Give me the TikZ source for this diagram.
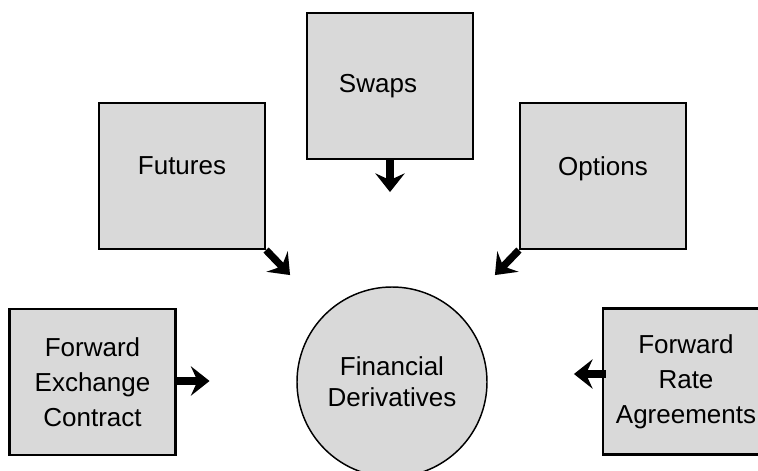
\documentclass[tikz,border=0pt]{standalone}
\usepackage{fontspec}
\setmainfont{Liberation Sans}
\usetikzlibrary{arrows.meta,calc}

\definecolor{boxgray}{HTML}{D9D9D9}
\newcommand{\derivfont}{\fontsize{19.5}{26.25}\selectfont}

\tikzset{
  kindbox/.style={draw, line width=1.6pt, fill=boxgray, minimum width=124.5pt,
    minimum height=109.5pt, inner sep=0pt, align=center, font=\derivfont},
  hubcircle/.style={draw, circle, line width=1.1pt, fill=boxgray, minimum size=142.5pt,
    inner sep=0pt, align=center, font=\fontsize{19.5}{23.25}\selectfont},
  blockarrow/.style={line width=5.5pt, -{Stealth[length=14pt,width=22pt,inset=5pt]}},
}

\begin{document}
\begin{tikzpicture}[x=0.75pt,y=-0.75pt]
\useasboundingbox (0,0) rectangle (758,471);

% Centre.
\node[hubcircle] (fin) at (392,382) {Financial\\Derivatives};

% Kinds of derivatives.
\node[kindbox] (swaps) at (390,86) {Swaps\hspace{18pt}};
\node[kindbox, text depth=15pt] (futures) at (182,176) {Futures};
\node[kindbox, text depth=15pt] (options) at (603,176) {Options};
\node[kindbox] (fec) at (92.5,382) {Forward\\Exchange\\Contract};
\node[kindbox] (fra) at (686,381.5) {Forward\\Rate\\Agreements};

% Arrow tips.
\coordinate (swapstip) at ($(swaps.south)+(0,32)$);
\coordinate (futurestip) at ($(futures.south east)+(24,25)$);
\coordinate (optionstip) at ($(options.south west)+(-24,25)$);
\coordinate (fectip) at ($(fec.east)+(33,-1)$);
\coordinate (frastart) at ($(fra.west)+(4,-7.5)$);
\coordinate (fratip) at ($(fra.west)+(-28,-7.5)$);

\draw[blockarrow] (swaps.south) -- (swapstip);
\draw[blockarrow] (futures.south east) -- (futurestip);
\draw[blockarrow] (options.south west) -- (optionstip);
\draw[blockarrow] ($(fec.east)+(0,-1)$) -- (fectip);
\draw[blockarrow] (frastart) -- (fratip);
\end{tikzpicture}
\end{document}
